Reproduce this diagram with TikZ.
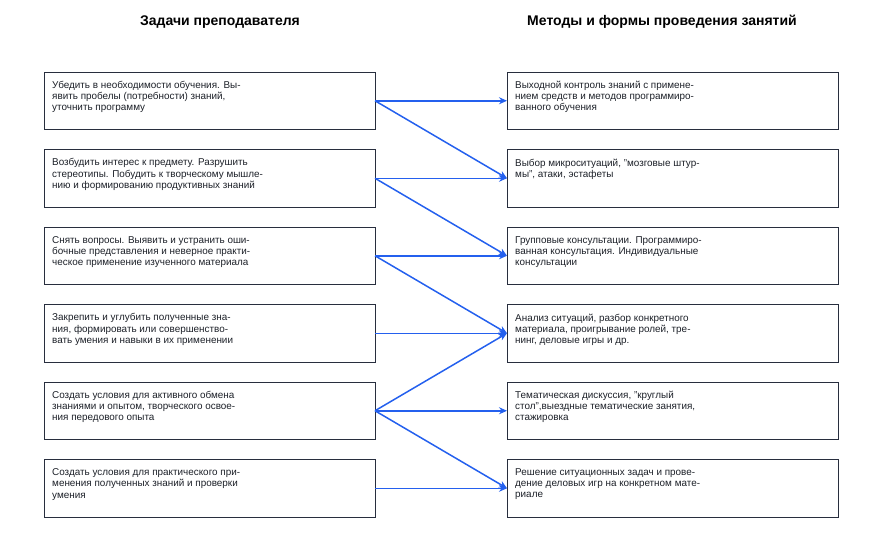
\documentclass[tikz,border=0pt]{standalone}
\usepackage{fontspec}
\setmainfont{Liberation Sans}
\usepackage{tikz}
\usetikzlibrary{arrows.meta,positioning}
\definecolor{boxline}{RGB}{40,46,62}
\definecolor{arrblue}{RGB}{36,96,238}
\definecolor{txtgray}{RGB}{28,32,40}
\tikzset{
  taskbox/.style={draw=boxline, line width=1pt, minimum width=331pt,
                  minimum height=57.5pt, inner sep=0pt, outer sep=0pt},
  boxtext/.style={anchor=north west, align=left, inner sep=0pt,
                  text=txtgray, font=\fontsize{9.9}{11.2}\selectfont},
  head/.style   ={font=\bfseries\fontsize{14}{16}\selectfont, text=black},
  arr/.style    ={-{Stealth[length=8pt,width=7pt]}, line width=1.5pt, draw=arrblue},
}

\begin{document}
\begin{tikzpicture}[x=1pt,y=-1pt,node distance=20pt]
  \useasboundingbox (0,0) rectangle (882,536);
  \node[head] (hl) at (220,22) {Задачи преподавателя};
  \node[head] (hr) at (662,22) {Методы и формы проведения занятий};
  %% left column
  \node[taskbox, anchor=north west] (l1) at (44,72) {};
  \node[taskbox, below=of l1] (l2) {};
  \node[taskbox, below=of l2] (l3) {};
  \node[taskbox, below=of l3] (l4) {};
  \node[taskbox, below=of l4] (l5) {};
  \node[taskbox, below=of l5] (l6) {};
  %% right column
  \node[taskbox, anchor=north west] (r1) at (507,72) {};
  \node[taskbox, below=of r1] (r2) {};
  \node[taskbox, below=of r2] (r3) {};
  \node[taskbox, below=of r3] (r4) {};
  \node[taskbox, below=of r4] (r5) {};
  \node[taskbox, below=of r5] (r6) {};
  %% texts
  \node[boxtext] (tl1) at ([shift={(8,9)}]l1.north west)
    {Убедить в необходимости обучения. Вы-\\явить пробелы (потребности) знаний,\\уточнить программу};
  \node[boxtext] (tl2) at ([shift={(8,9)}]l2.north west)
    {Возбудить интерес к предмету. Разрушить\\стереотипы. Побудить к творческому мышле-\\нию и формированию продуктивных знаний};
  \node[boxtext] (tl3) at ([shift={(8,9)}]l3.north west)
    {Снять вопросы. Выявить и устранить оши-\\бочные представления и неверное практи-\\ческое применение изученного материала};
  \node[boxtext] (tl4) at ([shift={(8,9)}]l4.north west)
    {Закрепить и углубить полученные зна-\\ния, формировать или совершенство-\\вать умения и навыки в их применении};
  \node[boxtext] (tl5) at ([shift={(8,9)}]l5.north west)
    {Создать условия для активного обмена\\знаниями и опытом, творческого освое-\\ния передового опыта};
  \node[boxtext] (tl6) at ([shift={(8,9)}]l6.north west)
    {Создать условия для практического при-\\менения полученных знаний и проверки\\умения};
  \node[boxtext] (tr1) at ([shift={(8,9)}]r1.north west)
    {Выходной контроль знаний с примене-\\нием средств и методов программиро-\\ванного обучения};
  \node[boxtext] (tr2) at ([shift={(8,9)}]r2.north west)
    {Выбор микроситуаций, "мозговые штур-\\мы", атаки, эстафеты};
  \node[boxtext] (tr3) at ([shift={(8,9)}]r3.north west)
    {Групповые консультации. Программиро-\\ванная консультация. Индивидуальные\\консультации};
  \node[boxtext] (tr4) at ([shift={(8,9)}]r4.north west)
    {Анализ ситуаций, разбор конкретного\\материала, проигрывание ролей, тре-\\нинг, деловые игры и др.};
  \node[boxtext] (tr5) at ([shift={(8,9)}]r5.north west)
    {Тематическая дискуссия, "круглый\\стол",выездные тематические занятия,\\стажировка};
  \node[boxtext] (tr6) at ([shift={(8,9)}]r6.north west)
    {Решение ситуационных задач и прове-\\дение деловых игр на конкретном мате-\\риале};
  %% links
  \draw[arr] (l1.east) -- (r1.west);
  \draw[arr] (l1.east) -- (r2.west);
  \draw[arr] (l2.east) -- (r2.west);
  \draw[arr] (l2.east) -- (r3.west);
  \draw[arr] (l3.east) -- (r3.west);
  \draw[arr] (l3.east) -- (r4.west);
  \draw[arr] (l4.east) -- (r4.west);
  \draw[arr] (l5.east) -- (r4.west);
  \draw[arr] (l5.east) -- (r5.west);
  \draw[arr] (l5.east) -- (r6.west);
  \draw[arr] (l6.east) -- (r6.west);
\end{tikzpicture}
\end{document}
